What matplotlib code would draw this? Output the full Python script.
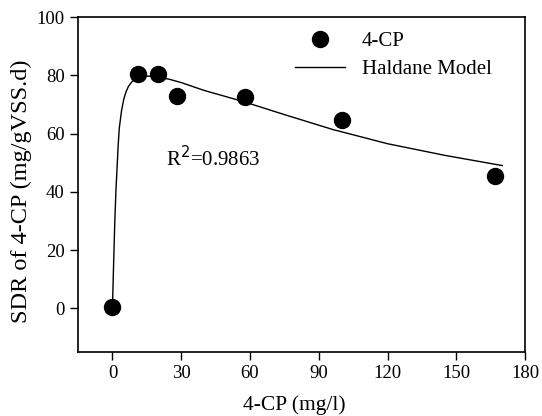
import numpy as np
import matplotlib
matplotlib.use("Agg")
import matplotlib.pyplot as plt

plt.rcParams['font.family'] = ['Liberation Serif', 'DejaVu Serif']

# measured SDR values
conc = [0, 11, 20, 28, 58, 100, 167]
sdr = [0.5, 80.5, 80.5, 73, 72.5, 64.5, 45.5]

# Haldane model curve
model_x = [0, 0.5, 1, 1.5, 2, 2.5, 3, 4, 5, 6, 7, 8.5, 10, 12, 14, 17, 20, 25,
           30, 40, 57, 75, 96, 120, 145, 170]
model_y = [0, 15, 29, 40, 48, 56, 62, 68, 72, 74.5, 76.2, 77.8, 78.8, 79.4, 79.7,
           79.7, 79.4, 78.6, 77.5, 74.8, 71, 66.5, 61.4, 56.5, 52.5, 49]

xticks = [0, 30, 60, 90, 120, 150, 180]
yticks = [0, 20, 40, 60, 80, 100]

fig = plt.figure(figsize=(5.42, 4.16), dpi=100)
ax = fig.add_axes([0.144, 0.154, 0.825, 0.805])

ax.plot(model_x, model_y, color='black', lw=1.0, label='Haldane Model', zorder=2)
ax.plot(conc, sdr, 'o', color='black', ms=11.5, label='4-CP', zorder=3)

ax.set_xlim(-15, 180)
ax.set_ylim(-15, 100)
ax.set_xticks(xticks)
ax.set_yticks(yticks)
ax.tick_params(direction='out', length=5.5, width=1, labelsize=13.5, pad=4,
               top=False, right=False)
for s in ax.spines.values():
    s.set_linewidth(1.2)

ax.set_xlabel('4-CP (mg/l)', fontsize=15.5)
ax.xaxis.set_label_coords(0.484, -0.13)
ax.set_ylabel('SDR of 4-CP (mg/gVSS.d)', fontsize=17.5)
ax.yaxis.set_label_coords(-0.102, 0.48)

ax.text(23.2, 48.8, r'R$^2$=0.9863', fontsize=15, va='baseline', ha='left')

h, l = ax.get_legend_handles_labels()
ax.legend(h[::-1], l[::-1], loc='upper left', bbox_to_anchor=(0.485, 0.957),
          frameon=False, fontsize=15, handlelength=2.4, handletextpad=0.8,
          labelspacing=0.4, borderpad=0, borderaxespad=0)

fig.savefig('out.png', dpi=100)
